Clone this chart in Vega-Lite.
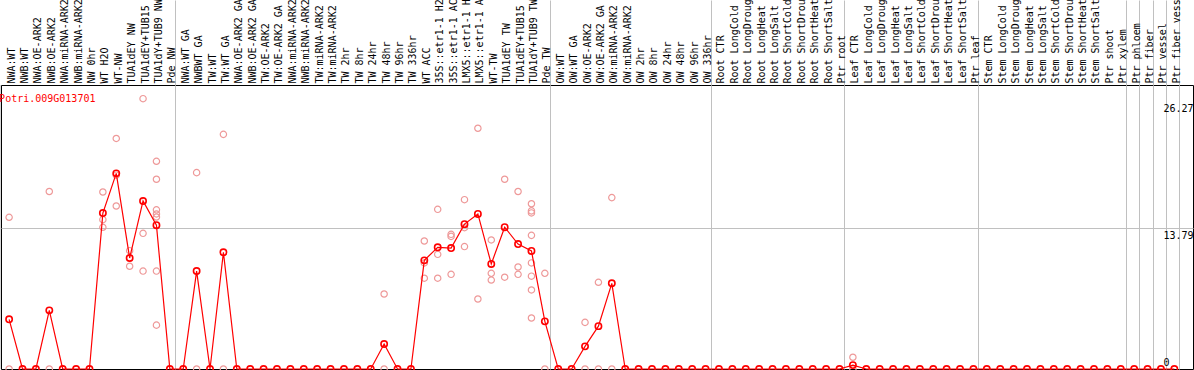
{
  "$schema": "https://vega.github.io/schema/vega-lite/v6.json",
  "width": 1192,
  "height": 284,
  "autosize": {"type": "none"},
  "padding": {"left": 1, "top": 85, "right": 1, "bottom": 1},
  "background": "white",
  "config": {
    "view": {"stroke": "black", "strokeWidth": 1},
    "font": "DejaVu Sans Mono",
    "scale": {"pointPadding": 2.346, "bandPaddingInner": 0, "bandPaddingOuter": 2.346}
  },
  "datasets": {
    "means": [
      {"sample": "NWA:WT", "value": 4.87},
      {"sample": "NWB:WT", "value": 0},
      {"sample": "NWA:OE-ARK2", "value": 0},
      {"sample": "NWB:OE-ARK2", "value": 5.75},
      {"sample": "NWA:miRNA-ARK2", "value": 0},
      {"sample": "NWB:miRNA-ARK2", "value": 0},
      {"sample": "NW 0hr", "value": 0},
      {"sample": "WT H2O", "value": 15.29},
      {"sample": "WT-NW", "value": 19.18},
      {"sample": "TUA1dEY NW", "value": 10.88},
      {"sample": "TUA1dEY+TUB15 NW", "value": 16.47},
      {"sample": "TUA1dY+TUB9 NW", "value": 14.1},
      {"sample": "Pde NW", "value": 0},
      {"sample": "NWA:WT GA", "value": 0},
      {"sample": "NWBWT GA", "value": 9.6},
      {"sample": "TW:WT", "value": 0},
      {"sample": "TW:WT GA", "value": 11.44},
      {"sample": "NWA:OE-ARK2 GA", "value": 0},
      {"sample": "NWB:OE-ARK2 GA", "value": 0},
      {"sample": "TW:OE-ARK2", "value": 0},
      {"sample": "TW:OE-ARK2 GA", "value": 0},
      {"sample": "NWA:miRNA-ARK2 GA", "value": 0},
      {"sample": "NWB:miRNA-ARK2 GA", "value": 0},
      {"sample": "TW:miRNA-ARK2", "value": 0},
      {"sample": "TW:miRNA-ARK2 GA", "value": 0},
      {"sample": "TW 2hr", "value": 0},
      {"sample": "TW 8hr", "value": 0},
      {"sample": "TW 24hr", "value": 0},
      {"sample": "TW 48hr", "value": 2.45},
      {"sample": "TW 96hr", "value": 0},
      {"sample": "TW 336hr", "value": 0},
      {"sample": "WT ACC", "value": 10.65},
      {"sample": "35S::etr1-1 H2O", "value": 11.93},
      {"sample": "35S::etr1-1 ACC", "value": 11.86},
      {"sample": "LMX5::etr1-1 H2O", "value": 14.2},
      {"sample": "LMX5::etr1-1 ACC", "value": 15.2},
      {"sample": "WT-TW", "value": 10.3},
      {"sample": "TUA1dEY TW", "value": 13.9},
      {"sample": "TUA1dEY+TUB15 TW", "value": 12.25},
      {"sample": "TUA1dY+TUB9 TW", "value": 11.57},
      {"sample": "Pde TW", "value": 4.67},
      {"sample": "OW:WT", "value": 0},
      {"sample": "OW:WT GA", "value": 0},
      {"sample": "OW:OE-ARK2", "value": 2.22},
      {"sample": "OW:OE-ARK2 GA", "value": 4.2},
      {"sample": "OW:miRNA-ARK2", "value": 8.4},
      {"sample": "OW:miRNA-ARK2 GA", "value": 0},
      {"sample": "OW 2hr", "value": 0},
      {"sample": "OW 8hr", "value": 0},
      {"sample": "OW 24hr", "value": 0},
      {"sample": "OW 48hr", "value": 0},
      {"sample": "OW 96hr", "value": 0},
      {"sample": "OW 336hr", "value": 0},
      {"sample": "Root CTR", "value": 0},
      {"sample": "Root LongCold", "value": 0},
      {"sample": "Root LongDrought", "value": 0},
      {"sample": "Root LongHeat", "value": 0},
      {"sample": "Root LongSalt", "value": 0},
      {"sample": "Root ShortCold", "value": 0},
      {"sample": "Root ShortDrought", "value": 0},
      {"sample": "Root ShortHeat", "value": 0},
      {"sample": "Root ShortSalt", "value": 0},
      {"sample": "Ptr root", "value": 0},
      {"sample": "Leaf CTR", "value": 0.38},
      {"sample": "Leaf LongCold", "value": 0},
      {"sample": "Leaf LongDrought", "value": 0},
      {"sample": "Leaf LongHeat", "value": 0},
      {"sample": "Leaf LongSalt", "value": 0},
      {"sample": "Leaf ShortCold", "value": 0},
      {"sample": "Leaf ShortDrought", "value": 0},
      {"sample": "Leaf ShortHeat", "value": 0},
      {"sample": "Leaf ShortSalt", "value": 0},
      {"sample": "Ptr leaf", "value": 0},
      {"sample": "Stem CTR", "value": 0},
      {"sample": "Stem LongCold", "value": 0},
      {"sample": "Stem LongDrought", "value": 0},
      {"sample": "Stem LongHeat", "value": 0},
      {"sample": "Stem LongSalt", "value": 0},
      {"sample": "Stem ShortCold", "value": 0},
      {"sample": "Stem ShortDrought", "value": 0},
      {"sample": "Stem ShortHeat", "value": 0},
      {"sample": "Stem ShortSalt", "value": 0},
      {"sample": "Ptr shoot", "value": 0},
      {"sample": "Ptr xylem", "value": 0},
      {"sample": "Ptr phloem", "value": 0},
      {"sample": "Ptr fiber", "value": 0},
      {"sample": "Ptr vessel", "value": 0},
      {"sample": "Ptr fiber vessel", "value": 0}
    ],
    "reps": [
      {"sample": "NWA:WT", "value": 14.87}, {"sample": "NWA:WT", "value": 0},
      {"sample": "NWB:OE-ARK2", "value": 17.4}, {"sample": "NWB:OE-ARK2", "value": 0},
      {"sample": "WT H2O", "value": 17.35}, {"sample": "WT H2O", "value": 14.64}, {"sample": "WT H2O", "value": 13.89},
      {"sample": "WT-NW", "value": 22.6}, {"sample": "WT-NW", "value": 19.0}, {"sample": "WT-NW", "value": 15.98},
      {"sample": "TUA1dEY NW", "value": 11.6}, {"sample": "TUA1dEY NW", "value": 10.07},
      {"sample": "TUA1dEY+TUB15 NW", "value": 26.5}, {"sample": "TUA1dEY+TUB15 NW", "value": 13.3}, {"sample": "TUA1dEY+TUB15 NW", "value": 9.6},
      {"sample": "TUA1dY+TUB9 NW", "value": 20.36}, {"sample": "TUA1dY+TUB9 NW", "value": 18.6}, {"sample": "TUA1dY+TUB9 NW", "value": 15.6}, {"sample": "TUA1dY+TUB9 NW", "value": 15.2}, {"sample": "TUA1dY+TUB9 NW", "value": 14.9}, {"sample": "TUA1dY+TUB9 NW", "value": 9.6}, {"sample": "TUA1dY+TUB9 NW", "value": 4.3},
      {"sample": "NWBWT GA", "value": 19.25}, {"sample": "NWBWT GA", "value": 0},
      {"sample": "TW:WT GA", "value": 23.0}, {"sample": "TW:WT GA", "value": 0},
      {"sample": "TW 48hr", "value": 7.35}, {"sample": "TW 48hr", "value": 0},
      {"sample": "WT ACC", "value": 12.55}, {"sample": "WT ACC", "value": 10.4}, {"sample": "WT ACC", "value": 8.9},
      {"sample": "35S::etr1-1 H2O", "value": 15.65}, {"sample": "35S::etr1-1 H2O", "value": 11.24}, {"sample": "35S::etr1-1 H2O", "value": 8.9},
      {"sample": "35S::etr1-1 ACC", "value": 13.2}, {"sample": "35S::etr1-1 ACC", "value": 13.0}, {"sample": "35S::etr1-1 ACC", "value": 9.28},
      {"sample": "LMX5::etr1-1 H2O", "value": 16.6}, {"sample": "LMX5::etr1-1 H2O", "value": 13.85}, {"sample": "LMX5::etr1-1 H2O", "value": 12.0},
      {"sample": "LMX5::etr1-1 ACC", "value": 23.6}, {"sample": "LMX5::etr1-1 ACC", "value": 6.86},
      {"sample": "WT-TW", "value": 12.65}, {"sample": "WT-TW", "value": 9.38}, {"sample": "WT-TW", "value": 8.72},
      {"sample": "TUA1dEY TW", "value": 18.6}, {"sample": "TUA1dEY TW", "value": 9.0},
      {"sample": "TUA1dEY+TUB15 TW", "value": 17.4}, {"sample": "TUA1dEY+TUB15 TW", "value": 10.0}, {"sample": "TUA1dEY+TUB15 TW", "value": 9.28},
      {"sample": "TUA1dY+TUB9 TW", "value": 16.2}, {"sample": "TUA1dY+TUB9 TW", "value": 15.5}, {"sample": "TUA1dY+TUB9 TW", "value": 15.3}, {"sample": "TUA1dY+TUB9 TW", "value": 13.1}, {"sample": "TUA1dY+TUB9 TW", "value": 10.4}, {"sample": "TUA1dY+TUB9 TW", "value": 9.1}, {"sample": "TUA1dY+TUB9 TW", "value": 7.75}, {"sample": "TUA1dY+TUB9 TW", "value": 5.0},
      {"sample": "Pde TW", "value": 9.38}, {"sample": "Pde TW", "value": 0},
      {"sample": "OW:OE-ARK2", "value": 4.57}, {"sample": "OW:OE-ARK2", "value": 0},
      {"sample": "OW:OE-ARK2 GA", "value": 8.5}, {"sample": "OW:OE-ARK2 GA", "value": 0},
      {"sample": "OW:miRNA-ARK2", "value": 16.8}, {"sample": "OW:miRNA-ARK2", "value": 0},
      {"sample": "Leaf CTR", "value": 1.15}, {"sample": "Leaf CTR", "value": 0}
    ],
    "gene": [{"sample": "NWA:WT", "gene": "Potri.009G013701"}]
  },
  "encoding": {
    "x": {
      "field": "sample", "type": "nominal",
      "scale": {
        "type": "point",
        "domain": ["NWA:WT","NWB:WT","NWA:OE-ARK2","NWB:OE-ARK2","NWA:miRNA-ARK2","NWB:miRNA-ARK2","NW 0hr","WT H2O","WT-NW","TUA1dEY NW","TUA1dEY+TUB15 NW","TUA1dY+TUB9 NW","Pde NW","NWA:WT GA","NWBWT GA","TW:WT","TW:WT GA","NWA:OE-ARK2 GA","NWB:OE-ARK2 GA","TW:OE-ARK2","TW:OE-ARK2 GA","NWA:miRNA-ARK2 GA","NWB:miRNA-ARK2 GA","TW:miRNA-ARK2","TW:miRNA-ARK2 GA","TW 2hr","TW 8hr","TW 24hr","TW 48hr","TW 96hr","TW 336hr","WT ACC","35S::etr1-1 H2O","35S::etr1-1 ACC","LMX5::etr1-1 H2O","LMX5::etr1-1 ACC","WT-TW","TUA1dEY TW","TUA1dEY+TUB15 TW","TUA1dY+TUB9 TW","Pde TW","OW:WT","OW:WT GA","OW:OE-ARK2","OW:OE-ARK2 GA","OW:miRNA-ARK2","OW:miRNA-ARK2 GA","OW 2hr","OW 8hr","OW 24hr","OW 48hr","OW 96hr","OW 336hr","Root CTR","Root LongCold","Root LongDrought","Root LongHeat","Root LongSalt","Root ShortCold","Root ShortDrought","Root ShortHeat","Root ShortSalt","Ptr root","Leaf CTR","Leaf LongCold","Leaf LongDrought","Leaf LongHeat","Leaf LongSalt","Leaf ShortCold","Leaf ShortDrought","Leaf ShortHeat","Leaf ShortSalt","Ptr leaf","Stem CTR","Stem LongCold","Stem LongDrought","Stem LongHeat","Stem LongSalt","Stem ShortCold","Stem ShortDrought","Stem ShortHeat","Stem ShortSalt","Ptr shoot","Ptr xylem","Ptr phloem","Ptr fiber","Ptr vessel","Ptr fiber vessel"],
        "padding": 2.346,
        "align": 0.303
      },
      "axis": {
        "orient": "top",
        "title": null,
        "domain": false,
        "labelAngle": 270,
        "labelAlign": "left",
        "labelBaseline": "middle",
        "labelFont": "DejaVu Sans Mono",
        "labelFontSize": 10,
        "labelColor": "black",
        "labelPadding": -83,
        "labelOffset": -3,
        "labelOverlap": false,
        "labelBound": false,
        "labelFlush": false,
        "labelLimit": 300,
        "tickOffset": 5,
        "ticks": true,
        "tickSize": 85,
        "tickColor": "#c0c0c0",
        "tickWidth": 1,
        "tickOpacity": {"condition": {"test": "indexof(['Pde NW','Pde TW','OW 336hr','Ptr root','Ptr leaf','Ptr xylem','Ptr phloem','Ptr fiber','Ptr vessel','Ptr fiber vessel'], datum.value) >= 0", "value": 1}, "value": 0},
        "grid": true,
        "gridColor": "#c0c0c0",
        "gridWidth": 1,
        "gridOpacity": {"condition": {"test": "indexof(['Pde NW','Pde TW','OW 336hr','Ptr root','Ptr leaf','Ptr xylem','Ptr phloem','Ptr fiber','Ptr vessel','Ptr fiber vessel'], datum.value) >= 0", "value": 1}, "value": 0}
      }
    }
  },
  "layer": [
    {
      "data": {"name": "gene"},
      "mark": {"type": "rule", "color": "#c0c0c0", "strokeWidth": 1, "xOffset": -9}
    },
    {
      "data": {"name": "reps"},
      "mark": {"type": "point", "shape": "circle", "filled": false, "color": "#ee9999", "strokeWidth": 1.2, "size": 40, "opacity": 1},
      "encoding": {
        "y": {
          "field": "value", "type": "quantitative",
          "scale": {"domain": [0, 27.84], "nice": false, "zero": true},
          "axis": {
            "orient": "right",
            "title": null,
            "values": [0, 13.79, 26.27],
            "labelExpr": "'' + datum.value",
            "domain": false,
            "ticks": false,
            "tickSize": 0,
            "grid": true,
            "gridColor": "#c0c0c0",
            "gridWidth": 1,
            "gridOpacity": {"condition": {"test": "datum.value == 13.79", "value": 1}, "value": 0},
            "labelFont": "DejaVu Sans Mono",
            "labelFontSize": 10,
            "labelColor": "black",
            "labelAlign": "left",
            "labelPadding": -30,
            "labelFlush": false,
            "labelOverlap": false,
            "labelBaseline": {"condition": {"test": "datum.value == 0", "value": "bottom"}, "value": "top"},
            "labelOffset": {"condition": {"test": "datum.value == 0", "value": -2}, "value": 2}
          }
        }
      }
    },
    {
      "data": {"name": "means"},
      "mark": {"type": "line", "color": "#ff0000", "strokeWidth": 1.2},
      "encoding": {
        "y": {"field": "value", "type": "quantitative"}
      }
    },
    {
      "data": {"name": "means"},
      "mark": {"type": "point", "shape": "circle", "filled": false, "color": "#ff0000", "strokeWidth": 1.6, "size": 40, "opacity": 1},
      "encoding": {
        "y": {"field": "value", "type": "quantitative"}
      }
    },
    {
      "data": {"name": "gene"},
      "mark": {"type": "text", "font": "DejaVu Sans Mono", "fontSize": 10, "color": "#ff0000", "align": "left", "baseline": "alphabetic", "dx": -10, "dy": 16.5},
      "encoding": {
        "y": {"datum": 27.84, "type": "quantitative"},
        "text": {"field": "gene", "type": "nominal"}
      }
    }
  ]
}
